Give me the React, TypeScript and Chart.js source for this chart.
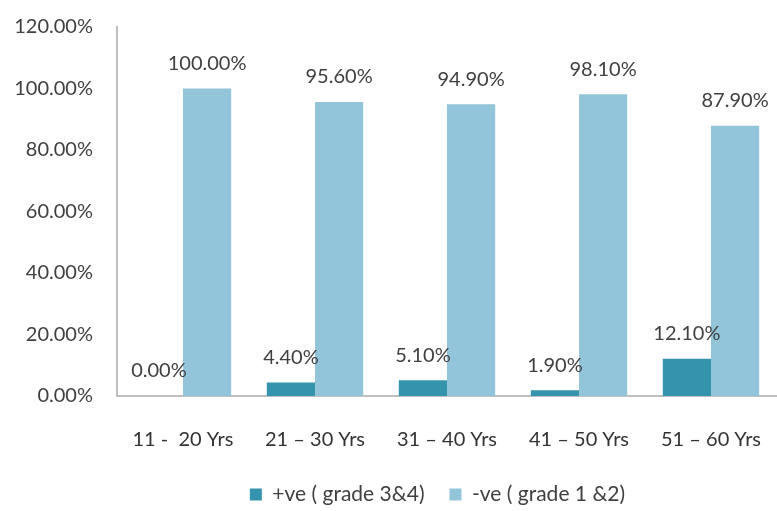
import React, { useEffect, useRef } from "react";
import { Chart, registerables } from "chart.js";

Chart.register(...registerables);

const ageGroups = ["11 -  20 Yrs", "21 – 30 Yrs", "31 – 40 Yrs", "41 – 50 Yrs", "51 – 60 Yrs"];
const positiveGrade34 = [0.0, 4.4, 5.1, 1.9, 12.1];
const negativeGrade12 = [100.0, 95.6, 94.9, 98.1, 87.9];
const seriesNames = ["+ve ( grade 3&4)", "-ve ( grade 1 &2)"];

const FONT = "Lato, 'Open Sans', sans-serif";
const TEXT = "#404040";

// Writes each bar's value above it
const valueLabels = {
  id: "valueLabels",
  afterDatasetsDraw(chart: any) {
    const ctx = chart.ctx;
    ctx.save();
    ctx.font = `20px ${FONT}`;
    ctx.fillStyle = TEXT;
    ctx.textAlign = "center";
    ctx.textBaseline = "middle";
    chart.data.datasets.forEach((ds: any, di: number) => {
      const meta = chart.getDatasetMeta(di);
      meta.data.forEach((bar: any, i: number) => {
        const v = ds.data[i] as number;
        ctx.fillText(v.toFixed(2) + "%", bar.x, bar.y - 25);
      });
    });
    ctx.restore();
  },
};

// Centres the legend row under the plot area and sets it a little lower
const legendNudge = {
  id: "legendNudge",
  afterLayout(chart: any) {
    const lg = chart.legend;
    if (lg) {
      lg.top += 4;
      lg.bottom += 4;
      lg.left += 49;
      lg.right += 49;
    }
  },
};

export default function App() {
  const ref = useRef<HTMLCanvasElement>(null);

  useEffect(() => {
    if (!ref.current) return;
    const chart = new Chart(ref.current, {
      type: "bar",
      data: {
        labels: ageGroups,
        datasets: [
          {
            label: seriesNames[0],
            data: positiveGrade34,
            backgroundColor: "#3594ad",
            categoryPercentage: 0.73,
            barPercentage: 1,
          },
          {
            label: seriesNames[1],
            data: negativeGrade12,
            backgroundColor: "#92c5da",
            categoryPercentage: 0.73,
            barPercentage: 1,
          },
        ],
      },
      options: {
        animation: false,
        responsive: true,
        maintainAspectRatio: false,
        layout: { padding: { top: 27, left: 0, right: 0, bottom: 0 } },
        plugins: {
          tooltip: { enabled: false },
          legend: {
            position: "bottom",
            labels: {
              boxWidth: 12,
              boxHeight: 12,
              padding: 25,
              color: TEXT,
              font: { family: FONT, size: 21 },
            },
          },
        },
        scales: {
          x: {
            grid: { display: false, drawTicks: false },
            border: { display: true, color: "#bfbfbf", width: 2 },
            ticks: { color: "#333", padding: 32, font: { family: FONT, size: 20 } },
            afterFit(scale: any) {
              scale.height = 59;
              scale.paddingLeft = 0;
              scale.paddingRight = 0;
            },
          },
          y: {
            min: 0,
            max: 120,
            grid: { display: false, drawTicks: false },
            border: { display: true, color: "#bfbfbf", width: 2 },
            ticks: {
              stepSize: 20,
              color: TEXT,
              padding: 24,
              font: { family: FONT, size: 20 },
              callback: (v: any) => Number(v).toFixed(2) + "%",
            },
            afterFit(scale: any) {
              scale.width = 117;
              scale.paddingTop = 0;
              scale.paddingBottom = 0;
            },
          },
        },
      },
      plugins: [valueLabels, legendNudge],
    });
    return () => chart.destroy();
  }, []);

  return (
    <div style={{ position: "fixed", left: 0, top: 0, width: 777, height: 511, background: "#fff" }}>
      <canvas ref={ref} />
    </div>
  );
}
